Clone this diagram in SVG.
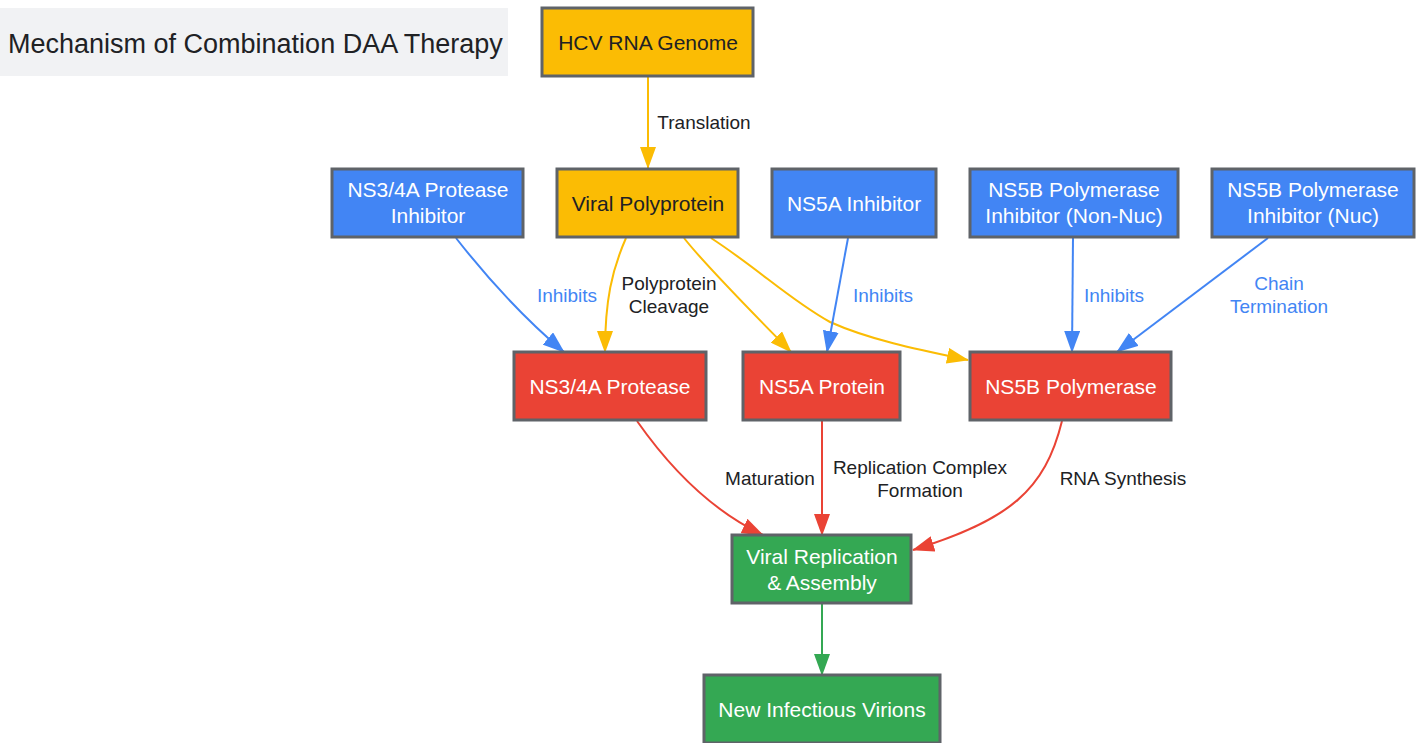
<svg xmlns="http://www.w3.org/2000/svg" width="1423" height="743" viewBox="0 0 1423 743">
<style>
.node rect{stroke:#5f6368;stroke-width:3}
.yellow rect{fill:#fbbc04}
.blue rect{fill:#4285f4}
.red rect{fill:#ea4335}
.green rect{fill:#34a853}
text{font-family:"Liberation Sans",Arial,sans-serif;text-anchor:middle}
.node text{font-size:21px;fill:#ffffff}
.yellow text{fill:#202124}
.edge{fill:none;stroke-width:2}
.ey{stroke:#fbbc04}.eb{stroke:#4285f4}.er{stroke:#ea4335}.eg{stroke:#34a853}
.lbl{font-size:19px;fill:#202124}
.lblb{font-size:19px;fill:#4285f4}
</style>
<defs>
<marker id="ay" markerUnits="userSpaceOnUse" markerWidth="22" markerHeight="16" viewBox="0 0 22 16" refX="21" refY="8" orient="auto"><path d="M0,0 L22,8 L0,16 z" fill="#fbbc04"/></marker>
<marker id="ab" markerUnits="userSpaceOnUse" markerWidth="22" markerHeight="16" viewBox="0 0 22 16" refX="21" refY="8" orient="auto"><path d="M0,0 L22,8 L0,16 z" fill="#4285f4"/></marker>
<marker id="ar" markerUnits="userSpaceOnUse" markerWidth="22" markerHeight="16" viewBox="0 0 22 16" refX="21" refY="8" orient="auto"><path d="M0,0 L22,8 L0,16 z" fill="#ea4335"/></marker>
<marker id="ag" markerUnits="userSpaceOnUse" markerWidth="22" markerHeight="16" viewBox="0 0 22 16" refX="21" refY="8" orient="auto"><path d="M0,0 L22,8 L0,16 z" fill="#34a853"/></marker>
</defs>
<g id="title">
<rect x="0" y="8" width="508" height="68" fill="#f1f2f4"/>
<text x="8" y="53" style="text-anchor:start;font-size:27px;fill:#202124">Mechanism of Combination DAA Therapy</text>
</g>
<g id="connectors">
<path class="edge ey" d="M648,77 L648,168" marker-end="url(#ay)"/>
<path class="edge eb" d="M456,238 C485,275 520,315 564,352" marker-end="url(#ab)"/>
<path class="edge ey" d="M626,238 C612,270 605,300 605,352" marker-end="url(#ay)"/>
<path class="edge ey" d="M684,238 C705,265 750,310 791,352" marker-end="url(#ay)"/>
<path class="edge ey" d="M711,238 C760,270 790,300 830,322 C870,340 920,350 968,360" marker-end="url(#ay)"/>
<path class="edge eb" d="M848,238 L827,352" marker-end="url(#ab)"/>
<path class="edge eb" d="M1073,238 L1072,352" marker-end="url(#ab)"/>
<path class="edge eb" d="M1268,238 L1117,352" marker-end="url(#ab)"/>
<path class="edge er" d="M637,421 C670,468 710,510 763,535" marker-end="url(#ar)"/>
<path class="edge er" d="M822,421 L822,535" marker-end="url(#ar)"/>
<path class="edge er" d="M1062,421 C1045,490 1010,520 913,550" marker-end="url(#ar)"/>
<path class="edge eg" d="M822,604 L822,675" marker-end="url(#ag)"/>
<text class="lbl" x="704" y="129">Translation</text>
<text class="lblb" x="567" y="302">Inhibits</text>
<text class="lbl" x="669" y="290">Polyprotein</text>
<text class="lbl" x="669" y="313">Cleavage</text>
<text class="lblb" x="883" y="302">Inhibits</text>
<text class="lblb" x="1114" y="302">Inhibits</text>
<text class="lblb" x="1279" y="290">Chain</text>
<text class="lblb" x="1279" y="313">Termination</text>
<text class="lbl" x="770" y="485">Maturation</text>
<text class="lbl" x="920" y="474">Replication Complex</text>
<text class="lbl" x="920" y="497">Formation</text>
<text class="lbl" x="1123" y="485">RNA Synthesis</text>
</g>
<g id="hcv" class="node yellow"><rect x="542" y="8" width="211" height="68"/><text x="648" y="50">HCV RNA Genome</text></g>
<g id="polyprotein" class="node yellow"><rect x="557" y="169" width="181" height="68"/><text x="648" y="211">Viral Polyprotein</text></g>
<g id="ns34a_inh" class="node blue"><rect x="332" y="169" width="191" height="68"/><text x="428" y="197">NS3/4A Protease</text><text x="428" y="223">Inhibitor</text></g>
<g id="ns5a_inh" class="node blue"><rect x="772" y="169" width="164" height="68"/><text x="854" y="211">NS5A Inhibitor</text></g>
<g id="ns5b_nn" class="node blue"><rect x="970" y="169" width="208" height="68"/><text x="1074" y="197">NS5B Polymerase</text><text x="1074" y="223">Inhibitor (Non-Nuc)</text></g>
<g id="ns5b_nuc" class="node blue"><rect x="1212" y="169" width="202" height="68"/><text x="1313" y="197">NS5B Polymerase</text><text x="1313" y="223">Inhibitor (Nuc)</text></g>
<g id="ns34a" class="node red"><rect x="514" y="352" width="192" height="68"/><text x="610" y="394">NS3/4A Protease</text></g>
<g id="ns5a" class="node red"><rect x="743" y="352" width="157" height="68"/><text x="822" y="394">NS5A Protein</text></g>
<g id="ns5b" class="node red"><rect x="970" y="352" width="201" height="68"/><text x="1071" y="394">NS5B Polymerase</text></g>
<g id="replication" class="node green"><rect x="732" y="535" width="179" height="68"/><text x="822" y="564">Viral Replication</text><text x="822" y="590">&amp; Assembly</text></g>
<g id="virions" class="node green"><rect x="704" y="675" width="236" height="68"/><text x="822" y="717">New Infectious Virions</text></g>
</svg>
